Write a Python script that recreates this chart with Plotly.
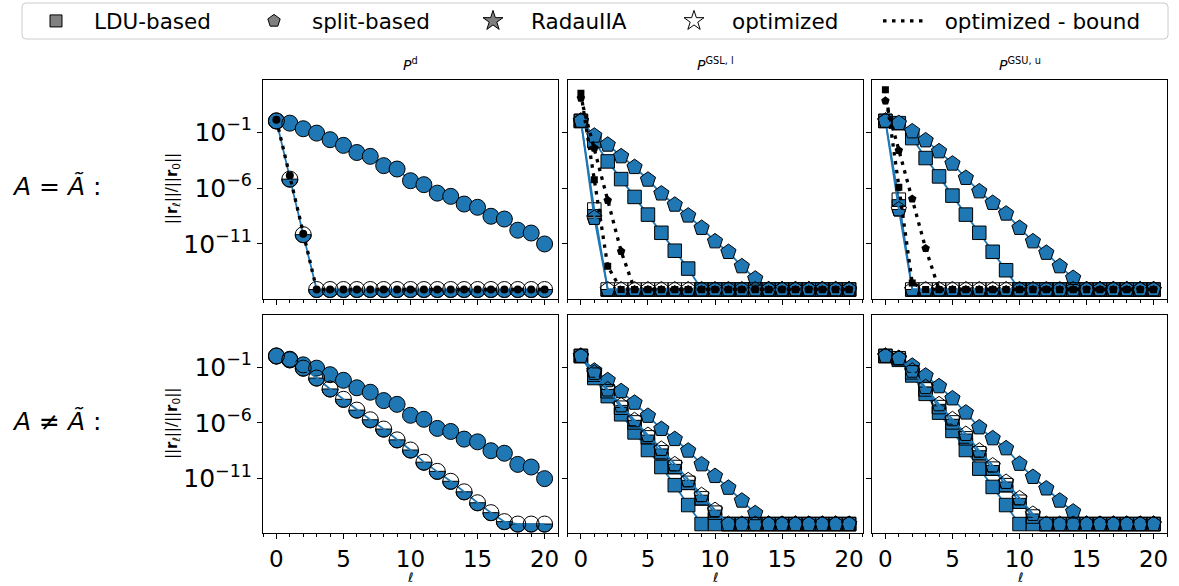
import numpy as np
import plotly.graph_objects as go

# ---------------- data ----------------
ell = list(range(21))
F = 8.5e-16  # floor reached by all residuals

# P^d, A = Ã
d_full_eq = [1.0, 6.3e-1, 2.0e-1, 8.1e-2, 2.1e-2, 6.5e-3, 1.5e-3, 6.8e-4, 1.0e-4, 5.0e-5, 4.5e-6,
             2.0e-6, 3.5e-7, 1.8e-7, 3.7e-8, 1.9e-8, 3.0e-9, 1.7e-9, 1.7e-10, 9.5e-11, 1.0e-11]
d_opt_eq = [1.0, 6.3e-6, 6.8e-11, F, F, F, F, F, F, F, F, F, F, F, F, F, F, F, F, F, F]
d_bnd_eq = [1.3, 1.35e-5, 8.0e-11, F, F, F, F, F, F, F, F, F, F, F, F, F, F, F, F, F, F]

# P^d, A ≠ Ã
d_full_neq = [1.0, 5.1e-1, 1.6e-1, 8.1e-2, 2.1e-2, 6.6e-3, 1.4e-3, 5.6e-4, 1.0e-4, 4.6e-5, 4.8e-6,
              2.1e-6, 3.2e-7, 1.7e-7, 3.5e-8, 2.0e-8, 3.2e-9, 1.9e-9, 1.9e-10, 1.1e-10, 1.0e-11]
d_opt_neq = [1.0, 4.5e-1, 8.1e-2, 1.05e-2, 1.1e-3, 1.3e-4, 1.4e-5, 1.9e-6, 2.8e-7, 3.0e-8, 3.7e-9,
             3.0e-10, 4.5e-11, 5.8e-12, 6.6e-13, 6.9e-14, 8.9e-15, 1.4e-15, F, F, F]

# P^GSL,l, A = Ã
gsl_ldu_eq = [1.0, 1.6e-2, 2.4e-4, 6.3e-6, 1.6e-7, 4.2e-9, 1.0e-10, 2.5e-12, 6.3e-14, F, F,
              F, F, F, F, F, F, F, F, F, F]
gsl_split_eq = [1.0, 4.7e-2, 7.4e-3, 6.8e-4, 7.4e-5, 5.5e-6, 3.2e-7, 3.2e-8, 3.4e-9, 2.7e-10, 1.7e-11,
                1.9e-12, 1.0e-13, 7.9e-15, F, F, F, F, F, F, F]
gsl_ldu_opt_eq = [1.0, 1.2e-8, F, F, F, F, F, F, F, F, F, F, F, F, F, F, F, F, F, F, F]
gsl_split_opt_eq = [1.0, 2.1e-9, F, F, F, F, F, F, F, F, F, F, F, F, F, F, F, F, F, F, F]
gsl_ldu_bnd_eq = [3.0e2, 5.5e-6, 1.0e-13, F, F, F, F, F, F, F, F, F, F, F, F, F, F, F, F, F, F]
gsl_split_bnd_eq = [1.1e2, 3.7e-3, 7.9e-8, 2.2e-12, F, F, F, F, F, F, F, F, F, F, F, F, F, F, F, F, F]

# P^GSU,u, A = Ã
gsu_ldu_eq = [1.0, 6.3e-1, 2.9e-2, 4.8e-4, 1.1e-5, 2.1e-7, 4.2e-9, 1.0e-10, 2.0e-12, 4.5e-14, F,
              F, F, F, F, F, F, F, F, F, F]
gsu_split_eq = [1.0, 6.3e-1, 1.15e-1, 1.8e-2, 1.9e-3, 1.5e-4, 7.9e-6, 5.0e-7, 4.6e-8, 5.1e-9, 2.7e-10,
                1.7e-11, 1.6e-12, 1.0e-13, 9.1e-15, F, F, F, F, F, F]
gsu_ldu_opt_eq = [1.0, 9.1e-8, F, F, F, F, F, F, F, F, F, F, F, F, F, F, F, F, F, F, F]
gsu_split_opt_eq = [1.0, 1.2e-8, F, F, F, F, F, F, F, F, F, F, F, F, F, F, F, F, F, F, F]
gsu_ldu_bnd_eq = [6.2e2, 1.2e-6, 3.2e-15, F, F, F, F, F, F, F, F, F, F, F, F, F, F, F, F, F, F]
gsu_split_bnd_eq = [6.3e1, 2.3e-3, 1.05e-7, 4.0e-12, F, F, F, F, F, F, F, F, F, F, F, F, F, F, F, F, F]

# P^GSL,l, A ≠ Ã
gsl_ldu_neq = [1.0, 1.05e-2, 2.5e-4, 5.9e-6, 1.4e-7, 3.7e-9, 1.1e-10, 2.6e-12, 4.3e-14, F, F,
               F, F, F, F, F, F, F, F, F, F]
gsl_split_neq = [1.0, 4.7e-2, 6.6e-3, 6.9e-4, 6.3e-5, 4.2e-6, 2.8e-7, 3.5e-8, 3.2e-9, 1.9e-10, 1.7e-11,
                 1.5e-12, 1.05e-13, 7.9e-15, F, F, F, F, F, F, F]
gsl_ldu_opt_neq = [1.0, 2.1e-2, 6.9e-4, 2.3e-5, 1.1e-6, 5.0e-8, 2.3e-9, 1.1e-10, 4.2e-12, 1.7e-13, 8.9e-15,
                   F, F, F, F, F, F, F, F, F, F]
gsl_split_opt_neq = [1.0, 3.0e-2, 9.8e-4, 3.7e-5, 1.7e-6, 8.1e-8, 4.6e-9, 1.9e-10, 7.1e-12, 3.3e-13, 1.5e-14,
                     F, F, F, F, F, F, F, F, F, F]

# P^GSU,u, A ≠ Ã
gsu_ldu_neq = [1.0, 4.5e-1, 1.8e-2, 4.0e-4, 8.3e-6, 1.9e-7, 3.7e-9, 7.9e-11, 1.8e-12, 4.3e-14, F,
               F, F, F, F, F, F, F, F, F, F]
gsu_split_neq = [1.0, 6.3e-1, 1.3e-1, 1.7e-2, 1.9e-3, 1.55e-4, 8.3e-6, 3.9e-7, 4.1e-8, 5.2e-9, 2.1e-10,
                 1.4e-11, 1.3e-12, 1.05e-13, 1.1e-14, F, F, F, F, F, F]
gsu_ldu_opt_neq = [1.0, 6.3e-1, 3.4e-2, 1.0e-3, 2.6e-5, 1.1e-6, 4.1e-8, 1.9e-9, 7.9e-11, 2.6e-12, 8.5e-14,
                   4.0e-15, F, F, F, F, F, F, F, F, F]
gsu_split_opt_neq = [1.0, 6.3e-1, 4.7e-2, 1.6e-3, 4.6e-5, 2.1e-6, 1.0e-7, 3.2e-9, 1.5e-10, 5.0e-12, 1.7e-13,
                     6.8e-15, F, F, F, F, F, F, F, F, F]

col_titles = ["<i>P</i><sup>d</sup>", "<i>P</i><sup>GSL, l</sup>", "<i>P</i><sup>GSU, u</sup>"]
row_labels = ["<i>A</i> = <i>Ã</i> :", "<i>A</i> ≠ <i>Ã</i> :"]
legend_names = ["LDU-based", "split-based", "RadauIIA", "optimized", "optimized - bound"]
x_ticks = [0, 5, 10, 15, 20]
y_ticks = [1e-1, 1e-6, 1e-11]
y_tick_text = ["10<sup>−1</sup>", "10<sup>−6</sup>", "10<sup>−11</sup>"]

# panels: (row, col) -> list of (values, marker, style)
panels = {
    (1, 1): [(d_full_eq, "circle", "full"), (d_opt_eq, "circle", "half"), (d_bnd_eq, "circle", "bound")],
    (1, 2): [(gsl_ldu_eq, "square", "full"), (gsl_split_eq, "pentagon", "full"),
             (gsl_ldu_opt_eq, "square", "half"), (gsl_split_opt_eq, "pentagon", "half"),
             (gsl_ldu_bnd_eq, "square", "bound"), (gsl_split_bnd_eq, "pentagon", "bound")],
    (1, 3): [(gsu_ldu_eq, "square", "full"), (gsu_split_eq, "pentagon", "full"),
             (gsu_ldu_opt_eq, "square", "half"), (gsu_split_opt_eq, "pentagon", "half"),
             (gsu_ldu_bnd_eq, "square", "bound"), (gsu_split_bnd_eq, "pentagon", "bound")],
    (2, 1): [(d_full_neq, "circle", "full"), (d_opt_neq, "circle", "half")],
    (2, 2): [(gsl_ldu_neq, "square", "full"), (gsl_split_neq, "pentagon", "full"),
             (gsl_ldu_opt_neq, "square", "half"), (gsl_split_opt_neq, "pentagon", "half")],
    (2, 3): [(gsu_ldu_neq, "square", "full"), (gsu_split_neq, "pentagon", "full"),
             (gsu_ldu_opt_neq, "square", "half"), (gsu_split_opt_neq, "pentagon", "half")],
}

# ---------------- styling / layout ----------------
W, H = 1179, 586
C0 = "#1f77b4"
FONT = "DejaVu Sans"
SIZE = {"circle": 16, "square": 13.5, "pentagon": 16}
BSIZE = {"circle": 8, "square": 7, "pentagon": 9}
DOT = "3.5px,5.5px"
xcols = [(263, 558), (567.5, 862.5), (872, 1167)]
yrows = [(78, 297.7), (314, 533)]
YR = [-15.89, 3.68]


def half_path(kind, r):
    if kind == "circle":
        t = np.linspace(np.pi, 2 * np.pi, 25)
        pts = list(zip(r * np.cos(t), r * np.sin(t)))
    elif kind == "square":
        pts = [(-r, 0), (-r, -r), (r, -r), (r, 0)]
    else:
        pts = [(-0.8507 * r, 0), (-0.588 * r, -0.809 * r), (0.588 * r, -0.809 * r), (0.8507 * r, 0)]
    return "M " + " L ".join(f"{x:.2f},{y:.2f}" for x, y in pts) + " Z"


fig = go.Figure()
shapes = []
layout = {}

for (r, c), series in panels.items():
    idx = (r - 1) * 3 + c
    xs = "" if idx == 1 else str(idx)
    xref, yref = "x" + xs, "y" + xs
    for vals, mk, style in series:
        if style == "full":
            fig.add_trace(go.Scatter(
                x=ell, y=vals, xaxis=xref, yaxis=yref, mode="lines+markers", showlegend=False,
                line=dict(color=C0, width=1.8),
                marker=dict(symbol=mk, size=SIZE[mk], color=C0, line=dict(color="black", width=1))))
        elif style == "half":
            for xv, yv in zip(ell, vals):
                shapes.append(dict(type="path", xref=xref, yref=yref, xsizemode="pixel", ysizemode="pixel",
                                   xanchor=xv, yanchor=yv, path=half_path(mk, SIZE[mk] / 2),
                                   fillcolor=C0, line=dict(color="black", width=1), layer="below"))
            fig.add_trace(go.Scatter(
                x=ell, y=vals, xaxis=xref, yaxis=yref, mode="lines+markers", showlegend=False,
                line=dict(color=C0, width=1.8),
                marker=dict(symbol=mk, size=SIZE[mk], color="rgba(0,0,0,0)",
                            line=dict(color="black", width=1))))
        else:
            fig.add_trace(go.Scatter(
                x=ell, y=vals, xaxis=xref, yaxis=yref, mode="lines+markers", showlegend=False,
                line=dict(color="black", width=3.3, dash=DOT),
                marker=dict(symbol=mk, size=BSIZE[mk], color="black", line=dict(width=0))))

    x0, x1 = xcols[c - 1]
    y0, y1 = yrows[r - 1]
    layout["xaxis" + xs] = dict(
        domain=[x0 / W, x1 / W], anchor=yref, range=[-1, 21], tickvals=x_ticks,
        ticks="outside", ticklen=5, tickwidth=1, tickcolor="black",
        minor=dict(tick0=0, dtick=1, ticks="outside", ticklen=3, tickwidth=1, tickcolor="black"),
        showticklabels=(r == 2), tickfont=dict(size=23, color="black", family=FONT),
        showline=True, mirror=True, linecolor="black", linewidth=1,
        showgrid=False, zeroline=False)
    layout["yaxis" + xs] = dict(
        domain=[1 - y1 / H, 1 - y0 / H], anchor=xref, type="log", range=YR,
        tickvals=y_ticks, ticktext=y_tick_text, ticks="outside", ticklen=5, tickwidth=1,
        tickcolor="black", showticklabels=(c == 1), tickfont=dict(size=25, color="black", family=FONT),
        showline=True, mirror=True, linecolor="black", linewidth=1,
        showgrid=False, zeroline=False)

# legend entries (one legend each, for free placement)
leg_specs = [
    dict(mode="markers", marker=dict(symbol="square", size=12, color="gray", line=dict(color="black", width=1))),
    dict(mode="markers", marker=dict(symbol="pentagon", size=13, color="gray", line=dict(color="black", width=1))),
    dict(mode="markers", marker=dict(symbol="star", size=15, color="gray", line=dict(color="black", width=1))),
    dict(mode="markers", marker=dict(symbol="star", size=15, color="white", line=dict(color="black", width=1))),
    dict(mode="lines", line=dict(color="black", width=3.3, dash=DOT)),
]
leg_x = [18, 236, 455, 656, 878]
leg_w = [66, 66, 66, 66, 43]
leg_pre = ["", "", "", "", "\u00a0\u00a0"]
for i, (name, spec) in enumerate(zip(legend_names, leg_specs)):
    lname = "legend" if i == 0 else f"legend{i + 1}"
    fig.add_trace(go.Scatter(x=[None], y=[None], name=leg_pre[i] + name, showlegend=True, legend=lname,
                             xaxis="x", yaxis="y", **spec))
    layout[lname] = dict(x=leg_x[i] / W, y=1 - 19 / H, xanchor="left", yanchor="middle",
                         bgcolor="rgba(0,0,0,0)", borderwidth=0,
                         font=dict(size=21.5, color="black", family=FONT), itemwidth=leg_w[i])

# legend frame
shapes.append(dict(type="path", xref="paper", yref="paper", xsizemode="pixel", ysizemode="pixel",
                   xanchor=0, yanchor=1, layer="below",
                   path="M 26,-1 L 1164,-1 Q 1168,-1 1168,-5 L 1168,-33 Q 1168,-37 1164,-37 "
                        "L 26,-37 Q 22,-37 22,-33 L 22,-5 Q 22,-1 26,-1 Z",
                   line=dict(color="#cccccc", width=1), fillcolor="white"))

annotations = []
for c, t in enumerate(col_titles):
    cx = (xcols[c][0] + xcols[c][1]) / 2
    annotations.append(dict(text=t, x=cx / W, y=1 - 62 / H, xref="paper", yref="paper",
                            xanchor="center", yanchor="middle",
                            showarrow=False, font=dict(size=14, family=FONT, color="black")))
    annotations.append(dict(text="<i>ℓ</i>", x=cx / W, y=0, xref="paper", yref="paper",
                            xanchor="center", yanchor="bottom", borderpad=0,
                            showarrow=False, font=dict(size=13, family=FONT, color="black")))
for r, t in enumerate(row_labels):
    cy = (yrows[r][0] + yrows[r][1]) / 2
    annotations.append(dict(text="||<b>r</b><sub><i>ℓ</i></sub>||/||<b>r</b><sub>0</sub>||",
                            x=172 / W, y=1 - cy / H, xref="paper", yref="paper", textangle=-90,
                            xanchor="center", yanchor="middle",
                            showarrow=False, font=dict(size=15, family=FONT, color="black")))
    annotations.append(dict(text=t, x=10 / W, y=1 - (cy - 3) / H, xref="paper", yref="paper",
                            xanchor="left", yanchor="middle",
                            showarrow=False, font=dict(size=25, family=FONT, color="black")))

fig.update_layout(
    width=W, height=H, margin=dict(l=0, r=0, t=0, b=0),
    paper_bgcolor="white", plot_bgcolor="white",
    font=dict(family=FONT, color="black"),
    shapes=shapes, annotations=annotations, **layout)

fig.write_html("out.html", config={"displayModeBar": False},
               post_script="document.body.style.margin='0';document.body.style.overflow='hidden';")
